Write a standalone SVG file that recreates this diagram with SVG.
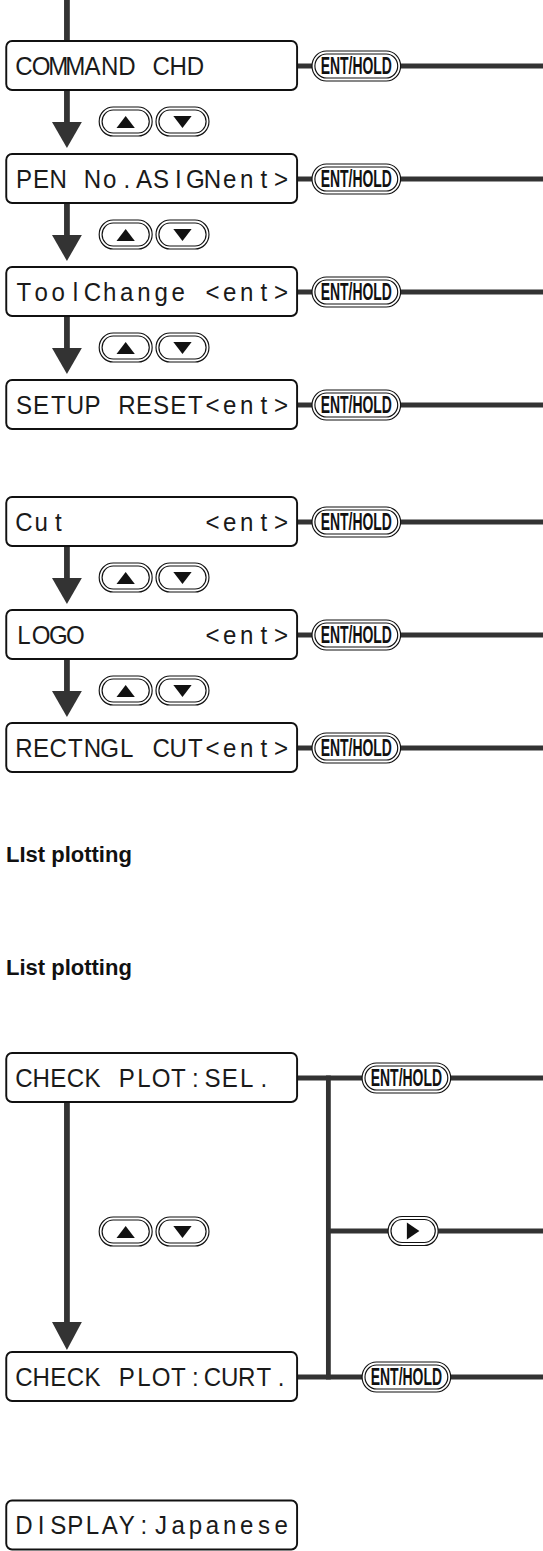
<svg xmlns="http://www.w3.org/2000/svg" width="543" height="1551" viewBox="0 0 543 1551">
<style>
.box{fill:#fff;stroke:#111;stroke-width:2}
.lbl{font-family:"Liberation Sans",Arial,sans-serif;font-size:25px;fill:#1a1a1a;text-anchor:middle}
.conn{stroke:#333;stroke-width:5;fill:none}
.shaft{stroke:#333;stroke-width:6;fill:none}
.head{fill:#333}
.bo{fill:#fff;stroke:#111;stroke-width:1.2}
.bi{fill:none;stroke:#111;stroke-width:1.2}
.ent{font-family:"Liberation Sans",Arial,sans-serif;font-weight:bold;font-size:23px;fill:#111;text-anchor:middle}
.tri{fill:#111}
.title{font-family:"Liberation Sans",Arial,sans-serif;font-weight:bold;font-size:22px;fill:#111}
</style>
<defs>
<g id="cap55">
<rect class="bo" x="0" y="0" width="55" height="29" rx="14.5"/>
<rect class="bi" x="3" y="3" width="49" height="23" rx="11.5"/>
</g>
<g id="cap92">
<rect class="bo" x="0" y="0" width="92" height="30" rx="15"/>
<rect class="bi" x="3" y="3" width="86" height="24" rx="12"/>
</g>
<g id="updown">
<use href="#cap55" x="0" y="0"/>
<polygon class="tri" points="18,21 37,21 27.5,9"/>
<use href="#cap55" x="59" y="0"/>
<polygon class="tri" points="77,9 96,9 86.5,21"/>
</g>
</defs>

<g id="diagram" transform="scale(0.963 1)">
<g id="connectors">
<line class="shaft" x1="69.5" y1="0" x2="69.5" y2="41"/>
<line class="conn" x1="308" y1="66" x2="324" y2="66"/><line class="conn" x1="416" y1="66" x2="564" y2="66"/>
<line class="conn" x1="308" y1="179" x2="324" y2="179"/><line class="conn" x1="416" y1="179" x2="564" y2="179"/>
<line class="conn" x1="308" y1="292" x2="324" y2="292"/><line class="conn" x1="416" y1="292" x2="564" y2="292"/>
<line class="conn" x1="308" y1="405" x2="324" y2="405"/><line class="conn" x1="416" y1="405" x2="564" y2="405"/>
<line class="conn" x1="308" y1="522" x2="324" y2="522"/><line class="conn" x1="416" y1="522" x2="564" y2="522"/>
<line class="conn" x1="308" y1="635" x2="324" y2="635"/><line class="conn" x1="416" y1="635" x2="564" y2="635"/>
<line class="conn" x1="308" y1="748" x2="324" y2="748"/><line class="conn" x1="416" y1="748" x2="564" y2="748"/>
<line class="shaft" x1="69.5" y1="90" x2="69.5" y2="123"/><polygon class="head" points="54,122 85,122 69.5,148"/>
<line class="shaft" x1="69.5" y1="203" x2="69.5" y2="236"/><polygon class="head" points="54,235 85,235 69.5,261"/>
<line class="shaft" x1="69.5" y1="316" x2="69.5" y2="349"/><polygon class="head" points="54,348 85,348 69.5,374"/>
<line class="shaft" x1="69.5" y1="546" x2="69.5" y2="579"/><polygon class="head" points="54,578 85,578 69.5,604"/>
<line class="shaft" x1="69.5" y1="659" x2="69.5" y2="692"/><polygon class="head" points="54,691 85,691 69.5,717"/>
<line class="conn" x1="308" y1="1078" x2="376" y2="1078"/><line class="conn" x1="468" y1="1078" x2="564" y2="1078"/>
<line class="conn" x1="341" y1="1075.5" x2="341" y2="1379.5"/>
<line class="conn" x1="341" y1="1231" x2="403" y2="1231"/><line class="conn" x1="455" y1="1231" x2="564" y2="1231"/>
<line class="conn" x1="308" y1="1377" x2="376" y2="1377"/><line class="conn" x1="468" y1="1377" x2="564" y2="1377"/>
<line class="shaft" x1="69.5" y1="1102" x2="69.5" y2="1324"/><polygon class="head" points="54,1322 85,1322 69.5,1350"/>
</g>

<g id="node-command-chd"><rect class="box" x="6.5" y="41" width="302" height="49" rx="6"/>
<text class="lbl" x="24.9 42.7 60.5 78.3 96.1 113.9 131.7 149.5 167.3 185.1 202.9" y="75">COMMAND CHD</text></g>
<g id="node-pen-no"><rect class="box" x="6.5" y="154" width="302" height="49" rx="6"/>
<text class="lbl" x="24.9 42.7 60.5 78.3 96.1 113.9 131.7 149.5 167.3 185.1 202.9 220.7 238.5 256.3 274.1 291.9" y="188">PEN No.ASIGNent&gt;</text></g>
<g id="node-toolchange"><rect class="box" x="6.5" y="267" width="302" height="49" rx="6"/>
<text class="lbl" x="24.9 42.7 60.5 78.3 96.1 113.9 131.7 149.5 167.3 185.1 202.9 220.7 238.5 256.3 274.1 291.9" y="301">ToolChange &lt;ent&gt;</text></g>
<g id="node-setup-reset"><rect class="box" x="6.5" y="380" width="302" height="49" rx="6"/>
<text class="lbl" x="24.9 42.7 60.5 78.3 96.1 113.9 131.7 149.5 167.3 185.1 202.9 220.7 238.5 256.3 274.1 291.9" y="414">SETUP RESET&lt;ent&gt;</text></g>
<g id="node-cut"><rect class="box" x="6.5" y="497" width="302" height="49" rx="6"/>
<text class="lbl" x="24.9 42.7 60.5 78.3 220.7 238.5 256.3 274.1 291.9" y="531">Cut &lt;ent&gt;</text></g>
<g id="node-logo"><rect class="box" x="6.5" y="610" width="302" height="49" rx="6"/>
<text class="lbl" x="24.9 42.7 60.5 78.3 96.1 220.7 238.5 256.3 274.1 291.9" y="644">LOGO &lt;ent&gt;</text></g>
<g id="node-rectngl"><rect class="box" x="6.5" y="723" width="302" height="49" rx="6"/>
<text class="lbl" x="24.9 42.7 60.5 78.3 96.1 113.9 131.7 149.5 167.3 185.1 202.9 220.7 238.5 256.3 274.1 291.9" y="757">RECTNGL CUT&lt;ent&gt;</text></g>

<g id="ent-buttons">
<g id="ent1"><use href="#cap92" x="324" y="51"/><text class="ent" x="370" y="74.5" textLength="74" lengthAdjust="spacingAndGlyphs">ENT/HOLD</text></g>
<g id="ent2"><use href="#cap92" x="324" y="164"/><text class="ent" x="370" y="187.5" textLength="74" lengthAdjust="spacingAndGlyphs">ENT/HOLD</text></g>
<g id="ent3"><use href="#cap92" x="324" y="277"/><text class="ent" x="370" y="300.5" textLength="74" lengthAdjust="spacingAndGlyphs">ENT/HOLD</text></g>
<g id="ent4"><use href="#cap92" x="324" y="390"/><text class="ent" x="370" y="413.5" textLength="74" lengthAdjust="spacingAndGlyphs">ENT/HOLD</text></g>
<g id="ent5"><use href="#cap92" x="324" y="507"/><text class="ent" x="370" y="530.5" textLength="74" lengthAdjust="spacingAndGlyphs">ENT/HOLD</text></g>
<g id="ent6"><use href="#cap92" x="324" y="620"/><text class="ent" x="370" y="643.5" textLength="74" lengthAdjust="spacingAndGlyphs">ENT/HOLD</text></g>
<g id="ent7"><use href="#cap92" x="324" y="733"/><text class="ent" x="370" y="756.5" textLength="74" lengthAdjust="spacingAndGlyphs">ENT/HOLD</text></g>
<g id="ent8"><use href="#cap92" x="376" y="1063"/><text class="ent" x="422" y="1086.5" textLength="74" lengthAdjust="spacingAndGlyphs">ENT/HOLD</text></g>
<g id="ent9"><use href="#cap92" x="376" y="1362"/><text class="ent" x="422" y="1385.5" textLength="74" lengthAdjust="spacingAndGlyphs">ENT/HOLD</text></g>
</g>

<g id="updown-buttons">
<use href="#updown" x="103" y="107"/>
<use href="#updown" x="103" y="220"/>
<use href="#updown" x="103" y="333"/>
<use href="#updown" x="103" y="563"/>
<use href="#updown" x="103" y="676"/>
<use href="#updown" x="103" y="1217"/>
</g>

<g id="right-button"><rect class="bo" x="403" y="1216.5" width="52" height="29" rx="14.5"/><rect class="bi" x="406" y="1219.5" width="46" height="23" rx="11.5"/>
<polygon class="tri" points="422.5,1222.5 422.5,1239.5 435.5,1231"/></g>

<g id="node-check-sel"><rect class="box" x="6.5" y="1053" width="302" height="49" rx="6"/>
<text class="lbl" x="24.9 42.7 60.5 78.3 96.1 113.9 131.7 149.5 167.3 185.1 202.9 220.7 238.5 256.3 274.1" y="1087">CHECK PLOT:SEL.</text></g>
<g id="node-check-curt"><rect class="box" x="6.5" y="1352" width="302" height="49" rx="6"/>
<text class="lbl" x="24.9 42.7 60.5 78.3 96.1 113.9 131.7 149.5 167.3 185.1 202.9 220.7 238.5 256.3 274.1 291.9" y="1386">CHECK PLOT:CURT.</text></g>
<g id="node-display"><rect class="box" x="6.5" y="1500.5" width="302" height="49" rx="6"/>
<text class="lbl" x="24.9 42.7 60.5 78.3 96.1 113.9 131.7 149.5 167.3 185.1 202.9 220.7 238.5 256.3 274.1 291.9" y="1534.5">DISPLAY:Japanese</text></g>
</g>

<text class="title" x="6" y="862">LIst plotting</text>
<text class="title" x="6" y="975">List plotting</text>
</svg>
